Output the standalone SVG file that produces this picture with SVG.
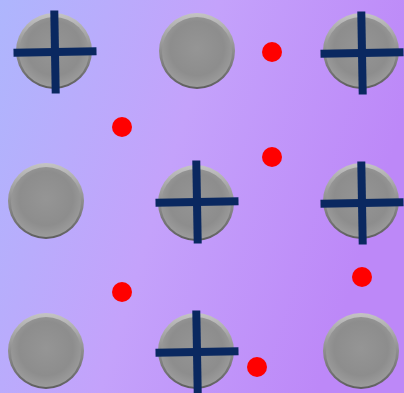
<svg xmlns="http://www.w3.org/2000/svg" width="404" height="393" viewBox="0 0 404 393">
<defs>
<linearGradient id="bg" x1="0" y1="0" x2="1" y2="0.3">
<stop offset="0" stop-color="#aeb6fd"/>
<stop offset="0.5" stop-color="#c4a2fb"/>
<stop offset="1" stop-color="#bd88f8"/>
</linearGradient>
<linearGradient id="rim" x1="0" y1="0" x2="0" y2="1">
<stop offset="0" stop-color="#c4c4c4"/>
<stop offset="0.5" stop-color="#8e8e8e"/>
<stop offset="1" stop-color="#5e5e5e"/>
</linearGradient>
<radialGradient id="face" cx="0.5" cy="0.45" r="0.55">
<stop offset="0" stop-color="#959595"/>
<stop offset="0.7" stop-color="#8d8d8d"/>
<stop offset="1" stop-color="#9c9c9c"/>
</radialGradient>
<g id="ball">
<circle r="38" fill="url(#rim)"/>
<circle r="35" cy="1" fill="url(#face)"/>
</g>
<g id="cross">
<rect x="-4" y="-41.5" width="8" height="83"/>
<rect x="-41.5" y="-4" width="83" height="8"/>
</g>
</defs>
<style>
.x{fill:#0a2860}
.d{fill:#ff0000}
</style>
<rect width="404" height="393" fill="url(#bg)"/>
<g id="balls">
<g id="n1"><use href="#ball" x="54" y="51"/><use href="#cross" class="x" transform="translate(55,52) rotate(-1)"/></g>
<g id="n2"><use href="#ball" x="197" y="51"/></g>
<g id="n3"><use href="#ball" x="361" y="51"/><use href="#cross" class="x" transform="translate(362,53) rotate(-1)"/></g>
<g id="n4"><use href="#ball" x="46" y="201"/></g>
<g id="n5"><use href="#ball" x="196" y="203"/><use href="#cross" class="x" transform="translate(197,202) rotate(-1)"/></g>
<g id="n6"><use href="#ball" x="361" y="201"/><use href="#cross" class="x" transform="translate(362,203) rotate(-1)"/></g>
<g id="n7"><use href="#ball" x="46" y="351"/></g>
<g id="n8"><use href="#ball" x="196" y="351"/><use href="#cross" class="x" transform="translate(197,352) rotate(-1)"/></g>
<g id="n9"><use href="#ball" x="361" y="351"/></g>
</g>
<g id="dots">
<circle class="d" cx="272" cy="52" r="10"/>
<circle class="d" cx="122" cy="127" r="10"/>
<circle class="d" cx="272" cy="157" r="10"/>
<circle class="d" cx="122" cy="292" r="10"/>
<circle class="d" cx="362" cy="277" r="10"/>
<circle class="d" cx="257" cy="367" r="10"/>
</g>
</svg>
